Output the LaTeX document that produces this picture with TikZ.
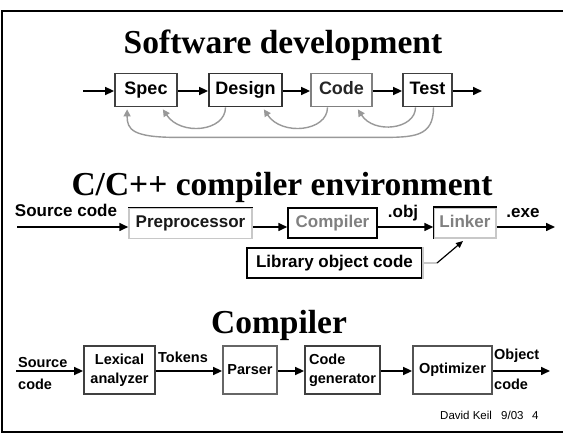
\documentclass[tikz,border=0pt]{standalone}
\usepackage{fontspec}
\setmainfont{Liberation Serif}
\setsansfont{Liberation Sans}
\usetikzlibrary{arrows.meta,calc}
\definecolor{fbgray}{HTML}{999999}
\definecolor{dk}{HTML}{404040}
\definecolor{md}{HTML}{808080}
\definecolor{lt}{HTML}{C8C8C8}
\begin{document}
\begin{tikzpicture}[x=1pt,y=-1pt,
  ttl/.style={font=\rmfamily\bfseries\fontsize{33.5}{36}\selectfont, anchor=base, inner sep=0pt},
  lbl/.style={font=\sffamily\bfseries\fontsize{17}{19}\selectfont, inner sep=0pt},
  slbl/.style={font=\sffamily\bfseries\fontsize{14.5}{19}\selectfont, inner sep=0pt, align=center},
  topbox/.style={draw, line width=1.8pt, inner sep=0pt, minimum height=33pt, text height=12.5pt, text depth=3.5pt, font=\sffamily\bfseries\fontsize{18}{19}\selectfont},
  midbox/.style={draw, line width=1.5pt, inner sep=0pt, minimum height=30pt, text height=12pt, text depth=3.5pt, font=\sffamily\bfseries\fontsize{17}{19}\selectfont},
  botbox/.style={draw, line width=1.8pt, inner sep=0pt, minimum height=48pt, align=center, font=\sffamily\bfseries\fontsize{14.5}{19}\selectfont},
  arr/.style={line width=1.6pt, -{Triangle[length=9pt,width=8pt]}},
  fb/.style={draw=fbgray, line width=1.4pt, -{Triangle[length=7pt,width=7pt]}},
  footer/.style={font=\sffamily\fontsize{11.5}{13}\selectfont, inner sep=0pt, anchor=base west}]
\useasboundingbox (0,0) rectangle (563,435);
\fill[white] (0,0) rectangle (563,435);
% frame
\draw[line width=1.5pt] (563,11) -- (2,11) -- (2,432) -- (563,432);

% ---------- Software development ----------
\node[ttl] (t1) at (283,54) {Software development};
\node[topbox, draw=dk, minimum width=62pt] (spec) at (146,90) {Spec};
\node[topbox, draw=dk!80!black, minimum width=73pt] (design) at (245.5,90) {Design};
\node[topbox, draw=md, minimum width=61pt, text=black!85] (code) at (341.5,90) {Code};
\node[topbox, draw=dk, minimum width=49pt] (test) at (427.5,90) {Test};
\coordinate (in0) at (83,91);
\coordinate (out0) at (482,91);
\draw[arr] (in0) -- (in0 -| spec.west);
\draw[arr] (spec.east |- in0) -- (design.west |- in0);
\draw[arr] (design.east |- in0) -- (code.west |- in0);
\draw[arr] (code.east |- in0) -- (test.west |- in0);
\draw[arr] (test.east |- in0) -- (out0);
% feedback arcs
\coordinate (dS) at ([xshift=-20pt]design.south);
\coordinate (dT) at ([xshift=-15pt,yshift=-2pt]spec.south east);
\coordinate (cS) at ([xshift=-14pt]code.south);
\coordinate (cT) at ([xshift=-19pt,yshift=-2pt]design.south east);
\coordinate (tS) at ([xshift=-12pt]test.south);
\coordinate (tS2) at ([xshift=6pt]test.south);
\coordinate (tT) at ([xshift=-15pt,yshift=-2pt]code.south east);
\coordinate (sT) at ([xshift=13pt,yshift=-2pt]spec.south west);
\draw[fb] (dS) .. controls ($(dS)+(0,24)$) and ($(dT)+(18,27)$) .. (dT);
\draw[fb] (cS) .. controls ($(cS)+(0,24)$) and ($(cT)+(18,27)$) .. (cT);
\draw[fb] (tS) .. controls ($(tS)+(0,22)$) and ($(tT)+(16,25)$) .. (tT);
\draw[fb] (tS2) .. controls ($(tS2)+(0,30)$) and ($(tS2)+(-20,30)$) .. ($(tS2)+(-55,30)$)
  -- ($(sT)+(50,28)$) .. controls ($(sT)+(5,28)$) and ($(sT)+(0,20)$) .. (sT);

% ---------- C/C++ compiler environment ----------
\node[ttl] (t2) at (282,196) {C/C++ compiler environment};
\node[lbl] (srclbl) at (66,210) {Source code};
\node[midbox, draw=lt, minimum width=123pt, text=black!90] (pre) at (190.5,223.5) {Preprocessor};
\draw[line width=1.5pt] (pre.north west) -- (pre.north east);
\node[midbox, minimum width=89pt, text=md] (comp) at (332.5,223) {Compiler};
\node[midbox, draw=lt, minimum width=62pt, text=md] (link) at (465,223) {Linker};
\draw[line width=1.5pt] (link.south west) -- (link.north west) -- (link.north east);
\node[lbl] (obj) at (403,213) {.obj};
\node[lbl] (exe) at (523,213) {.exe};
\node[midbox, minimum width=175pt] (lib) at (334.5,263) {Library object code};
\draw[line width=1.5pt, lt] (lib.north east) -- (lib.south east);
\coordinate (src) at (17,227);
\coordinate (out1) at (555,227);
\draw[arr] (src) -- (src -| pre.west);
\draw[arr] (pre.east |- src) -- (comp.west |- src);
\draw[arr] (comp.east |- src) -- (link.west |- src);
\draw[arr] (link.east |- src) -- (out1);
\coordinate (lk) at (437,263);
\coordinate (lktip) at (463,241);
\draw[lt, line width=1.2pt] (lib.east) -- (lk);
\draw[line width=1.2pt, -{Triangle[length=7pt,width=6pt]}] (lk) -- (lktip);

% ---------- Compiler ----------
\node[ttl] (t3) at (279,334) {Compiler};
\node[slbl, anchor=west] (src2a) at (18,363) {Source};
\node[slbl, anchor=west] (src2b) at (18,384) {code};
\node[botbox, draw=dk, minimum width=71pt] (lex) at (119.5,370) {Lexical\\analyzer};
\node[slbl] (tok) at (183,357) {Tokens};
\node[botbox, draw=md!80!black, minimum width=54pt] (parser) at (250,370) {Parser};
\node[botbox, draw=dk, minimum width=75pt, align=left] (cg) at (342.5,370) {Code\\generator};
\node[botbox, draw=dk!90, minimum width=79pt] (opt) at (452.5,370) {Optimizer};
\node[slbl, anchor=west] (obja) at (494,356) {Object};
\node[slbl, anchor=west] (objb) at (494,384) {code};
\coordinate (src3) at (16,371);
\coordinate (out3) at (550,371);
\draw[arr] (src3) -- (src3 -| lex.west);
\draw[arr] (lex.east |- src3) -- (parser.west |- src3);
\draw[arr] (parser.east |- src3) -- (cg.west |- src3);
\draw[arr] (cg.east |- src3) -- (opt.west |- src3);
\draw[arr] (opt.east |- src3) -- (out3);

% footer
\node[footer] (f1) at (440,420) {David Keil};
\node[footer] (f2) at (501,420) {9/03};
\node[footer] (f3) at (532,420) {4};
\end{tikzpicture}
\end{document}
